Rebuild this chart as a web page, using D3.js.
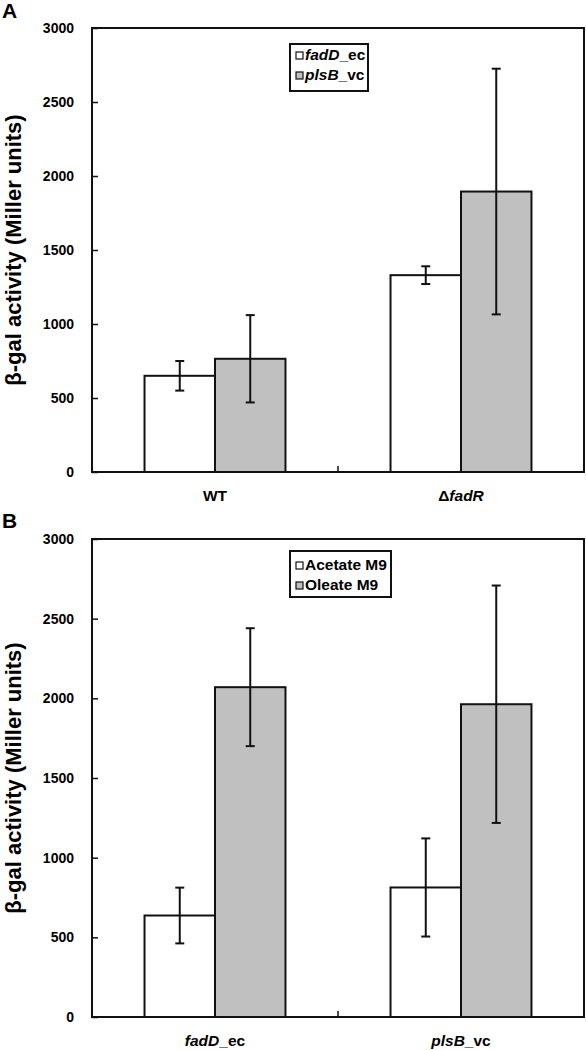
<!DOCTYPE html>
<html><head><meta charset="utf-8">
<script src="https://cdn.jsdelivr.net/npm/d3@7"></script>
<style>body{margin:0;background:#fff}svg{display:block}text{font-family:"Liberation Sans",Arial,sans-serif;font-weight:bold;fill:#000}</style>
</head><body>
<script>
// Panel A data
const catsA = ["WT", "ΔfadR"];
const seriesA = ["fadD_ec", "plsB_vc"];
const valuesA = [[650, 765], [1330, 1895]];
const errorsA = [[100, 295], [60, 830]];
// Panel B data
const catsB = ["fadD_ec", "plsB_vc"];
const seriesB = ["Acetate M9", "Oleate M9"];
const valuesB = [[637, 2070], [813, 1963]];
const errorsB = [[175, 370], [308, 745]];
const yTicks = [0, 500, 1000, 1500, 2000, 2500, 3000];
const fills = ["#ffffff", "#c0c0c0"];

const W = 586, H = 1050;
const svg = d3.select("body").append("svg").attr("width", W).attr("height", H);

// label renderers (italic gene names)
function richLabel(sel, label) {
  const parts = {
    "WT": [["WT", false]],
    "ΔfadR": [["Δ", false], ["fadR", true]],
    "fadD_ec": [["fadD", true], ["_ec", false]],
    "plsB_vc": [["plsB", true], ["_vc", false]],
    "Acetate M9": [["Acetate M9", false]],
    "Oleate M9": [["Oleate M9", false]]
  }[label];
  parts.forEach(([t, it]) => sel.append("tspan").text(t).style("font-style", it ? "italic" : "normal"));
}

function panel(opts) {
  const {cats, series, values, errors, top, bottom, letter, letterY, legend} = opts;
  const left = 92, right = 584;
  const g = svg.append("g");
  const y = d3.scaleLinear().domain([0, 3000]).range([bottom, top]);
  const p = 0.427;
  const x0 = d3.scaleBand().domain(cats).range([left, right]).paddingInner(p).paddingOuter(p / 2);
  const x1 = d3.scaleBand().domain(series).range([0, x0.bandwidth()]);

  // bars
  cats.forEach((c, i) => {
    series.forEach((s, j) => {
      const v = values[i][j], e = errors[i][j];
      const bx = x0(c) + x1(s), bw = x1.bandwidth();
      g.append("rect").attr("x", bx).attr("y", y(v)).attr("width", bw).attr("height", y(0) - y(v))
        .attr("fill", fills[j]).attr("stroke", "#111").attr("stroke-width", 2);
      const cx = bx + bw / 2;
      g.append("line").attr("x1", cx).attr("x2", cx).attr("y1", y(v + e)).attr("y2", y(v - e))
        .attr("stroke", "#111").attr("stroke-width", 2);
      [v + e, v - e].forEach(val => g.append("line").attr("x1", cx - 4.5).attr("x2", cx + 4.5)
        .attr("y1", y(val)).attr("y2", y(val)).attr("stroke", "#111").attr("stroke-width", 2));
    });
  });

  // frame
  g.append("rect").attr("x", left).attr("y", top).attr("width", right - left).attr("height", bottom - top)
    .attr("fill", "none").attr("stroke", "#111").attr("stroke-width", 2);

  // y axis
  const yAxis = d3.axisLeft(y).tickValues(yTicks).tickSizeInner(-6).tickSizeOuter(0).tickPadding(18).tickFormat(d3.format("d"));
  const ax = g.append("g").attr("transform", `translate(${left},0)`).call(yAxis);
  ax.select(".domain").remove();
  ax.selectAll(".tick line").attr("stroke", "#111").attr("stroke-width", 1.5);
  ax.selectAll(".tick text").attr("font-size", 14).attr("font-family", "Liberation Sans, Arial, sans-serif").attr("font-weight", "bold").attr("fill", "#000");

  // x axis middle tick between groups
  const xAxis = d3.axisBottom(x0).tickSize(0).tickPadding(0);
  const bx = g.append("g").attr("transform", `translate(0,${bottom})`).call(xAxis);
  bx.select(".domain").remove();
  bx.selectAll(".tick text").remove();
  const mid = (x0(cats[0]) + x0.bandwidth() + x0(cats[1])) / 2;
  g.append("line").attr("x1", mid).attr("x2", mid).attr("y1", bottom).attr("y2", bottom - 6)
    .attr("stroke", "#111").attr("stroke-width", 1.5);

  // category labels
  cats.forEach(c => {
    const t = g.append("text").attr("x", x0(c) + x0.bandwidth() / 2).attr("y", bottom + 29)
      .attr("text-anchor", "middle").attr("font-size", 15.5);
    richLabel(t, c);
  });

  // y title
  g.append("text").attr("transform", `translate(21,${(top + bottom) / 2}) rotate(-90)`)
    .attr("text-anchor", "middle").attr("font-size", 22).text("β-gal activity (Miller units)");

  // panel letter
  g.append("text").attr("x", 2).attr("y", letterY).attr("font-size", 21).text(letter);

  // legend
  const lg = g.append("g");
  lg.append("rect").attr("x", legend.x).attr("y", legend.y).attr("width", legend.w).attr("height", legend.h)
    .attr("fill", "#fff").attr("stroke", "#111").attr("stroke-width", 2);
  series.forEach((s, j) => {
    const sy = legend.y + legend.first + j * 20;
    lg.append("rect").attr("x", legend.x + 6).attr("y", sy).attr("width", 7).attr("height", 7)
      .attr("fill", fills[j]).attr("stroke", "#111").attr("stroke-width", 1.2);
    const t = lg.append("text").attr("x", legend.x + 15).attr("y", sy + 8).attr("font-size", 15.5);
    richLabel(t, s);
  });
}

panel({cats: catsA, series: seriesA, values: valuesA, errors: errorsA, top: 28, bottom: 472,
  letter: "A", letterY: 18, legend: {x: 290, y: 44, w: 78, h: 47, first: 8}});
panel({cats: catsB, series: seriesB, values: valuesB, errors: errorsB, top: 539, bottom: 1017,
  letter: "B", letterY: 528, legend: {x: 290, y: 551, w: 101, h: 46, first: 11}});
</script>
</body></html>
